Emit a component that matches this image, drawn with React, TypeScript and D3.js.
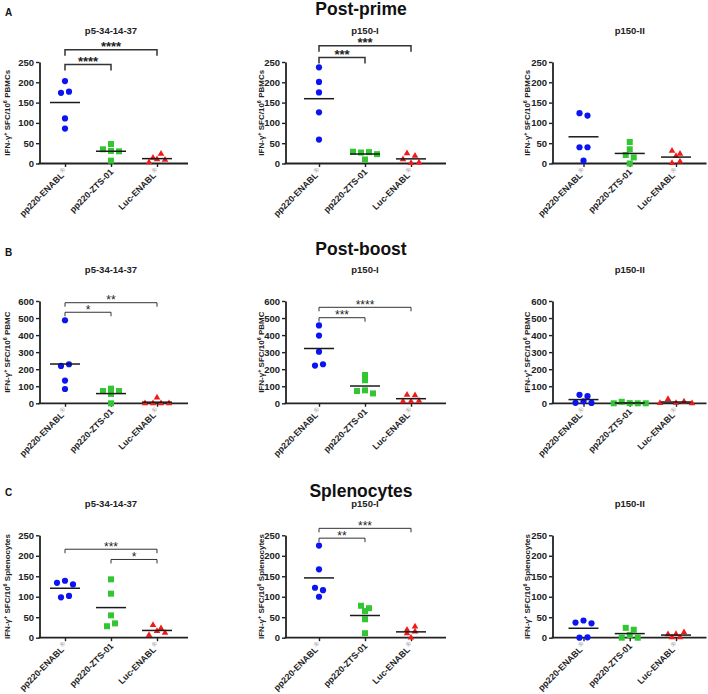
import React, { useEffect, useRef } from 'react';
import * as d3 from 'd3';

const FONT = "'Liberation Sans', Arial, Helvetica, sans-serif";

const groups = ['pp220-ENABL', 'pp220-ZTS-01', 'Luc-ENABL'];
const registered = [true, false, true];
const groupColors = ['#0b14f2', '#33c633', '#f01a1a'];
const groupShapes = ['circle', 'square', 'triangle'];

const rowTitles = ['Post-prime', 'Post-boost', 'Splenocytes'];
const rowLetters = ['A', 'B', 'C'];
const peptides = ['p5-34-14-37', 'p150-I', 'p150-II'];
const cellUnits = ['PBMCs', 'PBMC', 'Splenocytes'];
const rowTicks = [
  [0, 50, 100, 150, 200, 250],
  [0, 100, 200, 300, 400, 500, 600],
  [0, 50, 100, 150, 200, 250],
];

// SFC per 10^6 cells, one array per group, animals listed left to right
const primeP5 = [[203, 174, 177, 111, 86], [35, 48, 31, 30, 7], [14, 3, 10, 24, 9]];
const primeP150I = [[237, 201, 175, 126, 59], [29, 27, 28, 23, 10], [25, 10, 1, 19, 2]];
const primeP150II = [[124, 118, 40, 40, 7], [53, 35, 21, 15, 0], [31, 18, 24, 1, 5]];

const boostP5 = [[487, 219, 229, 133, 84], [72, 86, 55, 72, 0], [0, 0, 33, 0, 0]];
const boostP150I = [[457, 397, 303, 221, 229], [166, 135, 72, 76, 58], [50, 47, 12, 11, 15]];
const boostP150II = [[50, 42, 3, 12, 2], [0, 9, 1, 0, 0], [1, 25, 2, 10, 0]];

const splenP5 = [[134, 139, 130, 98.5, 102], [142.5, 107.5, 54.5, 28, 35], [31, 6.5, 16, 23, 12]];
const splenP150I = [[225, 167, 122, 116, 100], [78, 65, 72, 45, 11], [19, 27, 10.6, 14.7, 0]];
const splenP150II = [[37, 42, 35, 0, 1], [24, 19.5, 0, 6.5, 0], [8, 9, 13, 1, 1]];

// significance brackets: groups compared, stars, bracket height in data units
const primeP5Sig = [{ a: 0, b: 1, label: '****', at: 244 }, { a: 0, b: 2, label: '****', at: 280 }];
const primeP150ISig = [{ a: 0, b: 1, label: '***', at: 261 }, { a: 0, b: 2, label: '***', at: 290 }];
const boostP5Sig = [{ a: 0, b: 1, label: '*', at: 534 }, { a: 0, b: 2, label: '**', at: 590 }];
const boostP150ISig = [{ a: 0, b: 1, label: '***', at: 502 }, { a: 0, b: 2, label: '****', at: 563 }];
const splenP5Sig = [{ a: 1, b: 2, label: '*', at: 191 }, { a: 0, b: 2, label: '***', at: 216 }];
const splenP150ISig = [{ a: 0, b: 1, label: '**', at: 243 }, { a: 0, b: 2, label: '***', at: 267 }];

const rowValues = [
  [primeP5, primeP150I, primeP150II],
  [boostP5, boostP150I, boostP150II],
  [splenP5, splenP150I, splenP150II],
];
const rowSig = [
  [primeP5Sig, primeP150ISig, []],
  [boostP5Sig, boostP150ISig, []],
  [splenP5Sig, splenP150ISig, []],
];

const columns = [
  { axisX: 39.5, first: 65, last: 157, end: 188, labelX: 10 },
  { axisX: 285.5, first: 319, last: 411, end: 446, labelX: 264 },
  { axisX: 552.5, first: 583.5, last: 676, end: 706.5, labelX: 529.5 },
];
const rows = [
  { top: 62, bottom: 163.5, titleY: 14.5, letterY: 16, sigW: 1.5, sigTick: 6, starSize: 13, starWeight: 'bold' },
  { top: 301, bottom: 403.3, titleY: 255, letterY: 255.7, sigW: 1, sigTick: 4, starSize: 12, starWeight: 'normal' },
  { top: 535.3, bottom: 637.7, titleY: 496.7, letterY: 496.3, sigW: 1, sigTick: 4, starSize: 12, starWeight: 'normal' },
];

// spread points that sit at about the same height side by side
function swarmOffsets(vals, y, step = 8, tol = 4.5) {
  const order = vals.map((v, i) => i).sort((a, b) => vals[b] - vals[a]);
  const offsets = new Array(vals.length).fill(0);
  let bin = [];
  let binY = 0;
  const flush = () => {
    const s = [...bin].sort((a, b) => a - b);
    s.forEach((idx, k) => { offsets[idx] = (k - (s.length - 1) / 2) * step; });
  };
  order.forEach(i => {
    const py = y(vals[i]);
    if (bin.length && Math.abs(py - binY) < tol) bin.push(i);
    else {
      if (bin.length) flush();
      bin = [i];
      binY = py;
    }
  });
  if (bin.length) flush();
  return offsets;
}

const App = () => {
  const svgRef = useRef(null);

  useEffect(() => {
    document.body.style.margin = '0';
    const svg = d3.select(svgRef.current);
    svg.selectAll('*').remove();
    svg.style('font-family', FONT);

    rows.forEach((row, r) => {
      // row title and letter
      svg.append('text')
        .attr('x', 361).attr('y', row.titleY)
        .attr('text-anchor', 'middle')
        .style('font-size', '17.5px').style('font-weight', 'bold').style('fill', '#111')
        .text(rowTitles[r]);
      svg.append('text')
        .attr('x', 5).attr('y', row.letterY)
        .style('font-size', '10px').style('font-weight', 'bold').style('fill', '#111')
        .text(rowLetters[r]);

      columns.forEach((col, c) => {
        const data = rowValues[r][c];
        const ticks = rowTicks[r];
        const g = svg.append('g');

        const y = d3.scaleLinear().domain([0, d3.max(ticks)]).range([row.bottom, row.top]);
        const x = d3.scalePoint().domain(groups).range([col.first, col.last]);

        // peptide title
        g.append('text')
          .attr('x', x(groups[1])).attr('y', row.top - 28)
          .attr('text-anchor', 'middle')
          .style('font-size', '9.5px').style('font-weight', 'bold').style('fill', '#222')
          .text(peptides[c]);

        // y axis
        const yAxis = g.append('g')
          .attr('transform', `translate(${col.axisX},0)`)
          .call(d3.axisLeft(y).tickValues(ticks).tickSize(3.5).tickSizeOuter(0).tickPadding(2));
        yAxis.select('.domain').attr('stroke', '#222').attr('stroke-width', 1.8);
        yAxis.selectAll('.tick line').attr('stroke', '#222').attr('stroke-width', 1.4);
        yAxis.selectAll('.tick text')
          .style('font-family', FONT).style('font-size', '9.5px').style('font-weight', 'bold').style('fill', '#222');

        // x axis
        g.append('line')
          .attr('x1', col.axisX - 0.9).attr('x2', col.end)
          .attr('y1', y(0)).attr('y2', y(0))
          .attr('stroke', '#222').attr('stroke-width', 1.8);
        const xAxis = g.append('g')
          .attr('transform', `translate(0,${y(0)})`)
          .call(d3.axisBottom(x).tickSize(3.5).tickFormat(() => ''));
        xAxis.select('.domain').remove();
        xAxis.selectAll('.tick line').attr('stroke', '#222').attr('stroke-width', 1.4);

        groups.forEach((name, gi) => {
          const t = g.append('text')
            .attr('transform', `translate(${x(name) + 3},${y(0) + 9}) rotate(-45)`)
            .attr('text-anchor', 'end')
            .style('font-size', '8.8px').style('font-weight', 'bold').style('fill', '#222');
          t.append('tspan').text(name);
          if (registered[gi]) {
            t.append('tspan').attr('dy', -3.5).style('font-size', '6.5px').style('font-weight', 'normal')
              .style('fill', '#888').text('®');
          }
        });

        // y label
        const yl = g.append('text')
          .attr('transform', `translate(${col.labelX},${(row.top + row.bottom) / 2}) rotate(-90)`)
          .attr('text-anchor', 'middle')
          .style('font-size', '8px').style('font-weight', 'bold').style('fill', '#222');
        yl.append('tspan').text('IFN-γ');
        yl.append('tspan').attr('dy', -3).style('font-size', '5.5px').text('+');
        yl.append('tspan').attr('dy', 3).text(' SFC/10');
        yl.append('tspan').attr('dy', -3).style('font-size', '5.5px').text('6');
        yl.append('tspan').attr('dy', 3).text(' ' + cellUnits[r]);

        // points and means
        data.forEach((vals, gi) => {
          const cx = x(groups[gi]);
          const offs = swarmOffsets(vals, y);
          const color = groupColors[gi];
          vals.forEach((v, i) => {
            const px = cx + offs[i];
            const py = y(v);
            if (groupShapes[gi] === 'circle') {
              g.append('circle').attr('cx', px).attr('cy', py).attr('r', 3.1).attr('fill', color);
            } else if (groupShapes[gi] === 'square') {
              g.append('rect').attr('x', px - 3).attr('y', py - 3).attr('width', 6).attr('height', 6).attr('fill', color);
            } else {
              g.append('path')
                .attr('d', d3.symbol(d3.symbolTriangle, 19)())
                .attr('transform', `translate(${px},${py})`)
                .attr('fill', color);
            }
          });
          const m = d3.mean(vals);
          g.append('line')
            .attr('x1', cx - 15).attr('x2', cx + 15)
            .attr('y1', y(m)).attr('y2', y(m))
            .attr('stroke', '#1a1a1a').attr('stroke-width', 1.5);
        });

        // significance brackets
        rowSig[r][c].forEach(s => {
          const x1 = x(groups[s.a]);
          const x2 = x(groups[s.b]);
          const by = y(s.at);
          g.append('path')
            .attr('d', `M${x1},${by + row.sigTick}V${by}H${x2}V${by + row.sigTick}`)
            .attr('fill', 'none').attr('stroke', '#333').attr('stroke-width', row.sigW);
          g.append('text')
            .attr('x', (x1 + x2) / 2).attr('y', by + 1.5)
            .attr('text-anchor', 'middle')
            .style('font-size', `${row.starSize}px`).style('font-weight', row.starWeight).style('fill', '#222')
            .text(s.label);
        });
      });
    });
  }, []);

  return <svg ref={svgRef} width={708} height={694} style={{ display: 'block', background: '#fff' }} />;
};

export default App;
